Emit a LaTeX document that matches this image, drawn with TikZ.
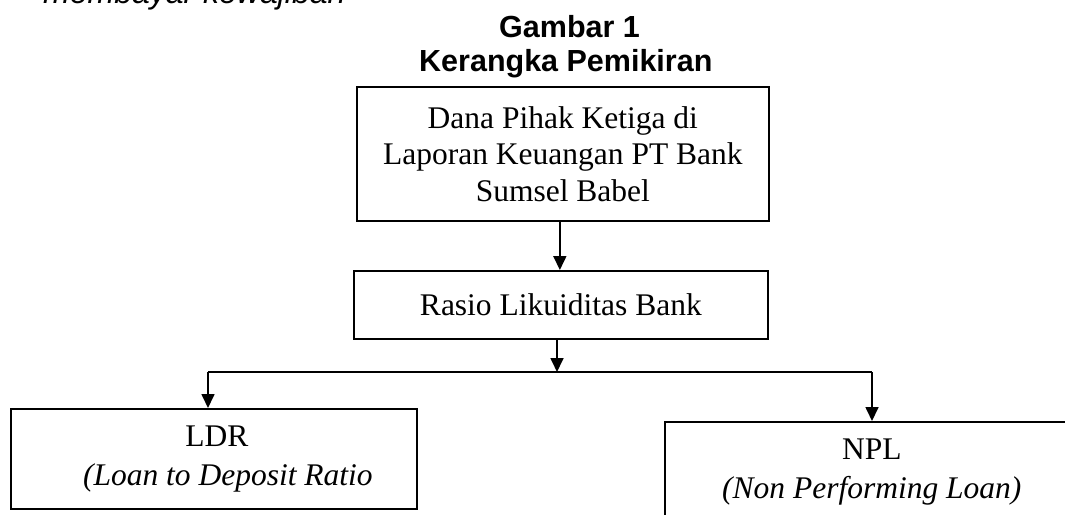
\documentclass[tikz,border=0pt]{standalone}
\usepackage{fontspec}
\setmainfont{Liberation Serif}
\newfontfamily\arialf{Liberation Sans}
\usetikzlibrary{arrows.meta}
\newcommand{\bodysize}{\fontsize{31.5}{36.5}\selectfont}
\begin{document}
\begin{tikzpicture}[x=1pt,y=-1pt,
  box/.style={draw, line width=1.7pt, inner sep=0pt, anchor=north west, align=center, font=\bodysize},
  conn/.style={line width=1.7pt, -{Triangle[width=13pt,length=14pt]}},
  hline/.style={line width=1.7pt},
  heading/.style={anchor=base west, font=\arialf\bfseries\fontsize{30.5}{34}\selectfont, inner sep=0pt}]
\useasboundingbox (0,0) rectangle (1065,514);
\begin{scope}
\clip (0,0) rectangle (1065,514);
\node[anchor=base west, inner sep=0pt, font=\arialf\itshape\fontsize{32}{38}\selectfont] (prev) at (43,3) {membayar kewajiban};
\node[heading] (g1) at (499,37) {Gambar 1};
\node[heading] (g2) at (419,71) {Kerangka Pemikiran};
\node[box, minimum width=412pt, minimum height=134pt] (dpk) at (356,86)
  {Dana Pihak Ketiga di\\Laporan Keuangan PT Bank\\Sumsel Babel};
\node[box, minimum width=414pt, minimum height=68pt] (rasio) at (353,270)
  {Rasio Likuiditas Bank};
\node[box, minimum width=406pt, minimum height=100pt] (ldr) at (10,408)
  {\hspace*{6pt}LDR\\[2pt]\hspace*{28pt}\textit{(Loan to Deposit Ratio}};
\node[box, minimum width=414pt, minimum height=100pt] (npl) at (664,421)
  {NPL\\[2pt]\textit{(Non Performing Loan)}};
\coordinate (jm) at (557,372);
\coordinate (jl) at (208,372);
\coordinate (jr) at (872,372);
\draw[conn] ([xshift=-3pt]dpk.south) -- ([xshift=-3pt]dpk.south |- rasio.north);
\draw[conn] (rasio.south -| jm) -- (jm);
\draw[hline] (jl) -- (jr);
\draw[conn] (jl) -- (jl |- ldr.north);
\draw[conn] (jr) -- (jr |- npl.north);
\end{scope}
\end{tikzpicture}
\end{document}
